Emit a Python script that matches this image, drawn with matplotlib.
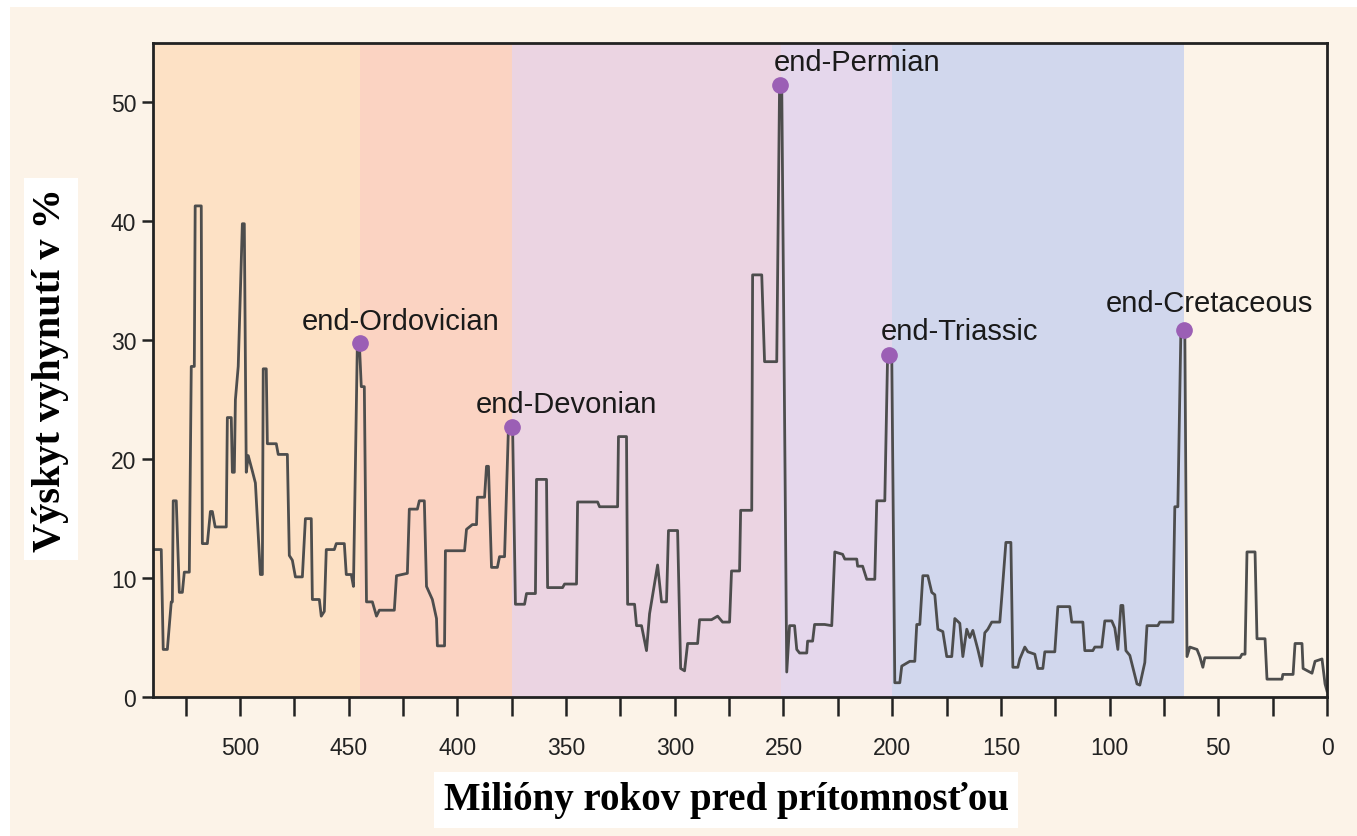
import numpy as np
import matplotlib
matplotlib.use("Agg")
import matplotlib.pyplot as plt
from matplotlib.patches import Rectangle

# extinction intensity (%) vs. millions of years ago
ages = [540, 536.2, 535.3, 533.4, 531.6, 531.1, 530.7, 529.3, 527.9, 526.5, 525.6, 523.3,
        522.4, 521.0, 520.6, 517.8, 517.3, 515.0, 513.6, 512.7, 511.4, 506.3, 505.8, 504.0,
        503.5, 502.6, 502.1, 500.8, 498.9, 498.0, 497.1, 496.2, 494.3, 492.9, 490.6, 489.7,
        489.3, 487.9, 487.4, 483.3, 482.4, 478.2, 477.3, 475.9, 474.5, 471.3, 469.9, 467.2,
        466.7, 463.5, 462.6, 461.2, 460.3, 456.6, 455.7, 452.0, 451.1, 448.8, 447.8, 446.0,
        445.1, 444.2, 442.8, 441.8, 439.1, 437.2, 435.9, 429.0, 428.0, 423.0, 422.1, 418.4,
        417.5, 415.2, 414.2, 411.5, 409.6, 409.2, 405.9, 405.5, 396.7, 395.8, 393.1, 391.2,
        390.8, 387.5, 386.6, 385.7, 384.3, 381.6, 380.6, 378.3, 376.5, 374.6, 373.3, 369.1,
        368.2, 364.1, 363.6, 359.0, 358.5, 351.6, 350.7, 345.2, 344.7, 335.5, 334.6, 326.3,
        325.9, 322.2, 321.7, 318.5, 317.6, 315.3, 313.0, 311.6, 307.9, 306.1, 303.8, 302.9,
        298.7, 297.3, 295.5, 294.1, 289.5, 288.6, 283.1, 280.3, 278.0, 274.8, 273.9, 270.2,
        269.7, 264.6, 264.2, 260.0, 258.7, 253.1, 251.8, 250.8, 248.5, 247.2, 244.9, 243.9,
        242.6, 239.3, 238.9, 236.6, 235.7, 231.1, 227.8, 226.4, 222.8, 221.8, 216.3, 215.9,
        213.6, 211.7, 208.0, 207.1, 203.4, 202.1, 200.2, 198.8, 196.5, 195.6, 191.9, 189.6,
        188.7, 187.3, 185.9, 183.6, 181.8, 180.4, 179.0, 176.7, 174.9, 172.6, 171.2, 168.9,
        167.5, 165.7, 164.3, 162.9, 160.6, 158.8, 157.4, 156.0, 154.2, 150.5, 149.6, 147.7,
        145.4, 144.5, 142.2, 141.3, 139.0, 137.6, 134.4, 133.0, 130.7, 129.8, 125.2, 123.8,
        118.3, 117.4, 112.3, 111.4, 107.7, 106.8, 103.6, 102.2, 99.0, 97.6, 96.2, 94.8,
        93.9, 92.5, 90.7, 87.4, 86.1, 83.8, 82.8, 77.8, 76.9, 70.9, 70.0, 68.6,
        67.2, 65.4, 64.4, 63.1, 59.8, 58.5, 57.1, 56.2, 40.0, 39.1, 37.7, 36.8,
        33.1, 32.2, 28.5, 27.6, 20.7, 20.3, 15.6, 14.7, 11.5, 11.0, 6.9, 5.5,
        2.3, 0.9, 0]
rates = [12.4, 12.4, 4.0, 4.0, 8.0, 8.0, 16.5, 16.5, 8.8, 8.8, 10.5, 10.5,
         27.8, 27.8, 41.3, 41.3, 12.9, 12.9, 15.6, 15.6, 14.3, 14.3, 23.5, 23.5,
         18.9, 18.9, 25.0, 27.8, 39.8, 39.8, 18.9, 20.3, 19.0, 18.0, 10.3, 10.3,
         27.6, 27.6, 21.3, 21.3, 20.4, 20.4, 11.9, 11.5, 10.1, 10.1, 15.0, 15.0,
         8.2, 8.2, 6.8, 7.2, 12.4, 12.4, 12.9, 12.9, 10.3, 10.3, 9.3, 29.8,
         29.8, 26.1, 26.1, 8.0, 8.0, 6.8, 7.3, 7.3, 10.2, 10.4, 15.8, 15.8,
         16.5, 16.5, 9.3, 8.2, 6.6, 4.3, 4.3, 12.3, 12.3, 14.1, 14.5, 14.5,
         16.8, 16.8, 19.4, 19.4, 10.9, 10.9, 11.8, 11.8, 22.7, 22.7, 7.8, 7.8,
         8.7, 8.7, 18.3, 18.3, 9.2, 9.2, 9.5, 9.5, 16.4, 16.4, 16.0, 16.0,
         21.9, 21.9, 7.8, 7.8, 6.0, 6.0, 3.9, 7.0, 11.1, 8.0, 8.0, 14.0,
         14.0, 2.4, 2.2, 4.5, 4.5, 6.5, 6.5, 6.8, 6.3, 6.3, 10.6, 10.6,
         15.7, 15.7, 35.5, 35.5, 28.2, 28.2, 51.5, 51.5, 2.1, 6.0, 6.0, 4.0,
         3.7, 3.7, 4.7, 4.7, 6.1, 6.1, 6.0, 12.2, 12.0, 11.6, 11.6, 11.0,
         11.0, 9.9, 9.9, 16.5, 16.5, 28.8, 28.8, 1.2, 1.2, 2.6, 3.0, 3.0,
         6.1, 6.1, 10.2, 10.2, 8.8, 8.6, 5.7, 5.5, 3.4, 3.4, 6.6, 6.2,
         3.4, 5.7, 5.0, 5.6, 4.0, 2.6, 5.4, 5.7, 6.3, 6.3, 8.4, 13.0,
         13.0, 2.5, 2.5, 3.2, 4.2, 3.8, 3.6, 2.4, 2.4, 3.8, 3.8, 7.6,
         7.6, 6.3, 6.3, 3.9, 3.9, 4.2, 4.2, 6.4, 6.4, 5.8, 4.0, 7.7,
         7.7, 3.9, 3.5, 1.1, 1.0, 2.9, 6.0, 6.0, 6.3, 6.3, 16.0, 16.0,
         30.9, 30.9, 3.4, 4.2, 4.0, 3.4, 2.5, 3.3, 3.3, 3.6, 3.6, 12.2,
         12.2, 4.9, 4.9, 1.5, 1.5, 1.9, 1.9, 4.5, 4.5, 2.4, 2.0, 3.0,
         3.2, 1.1, 0.5]

# the big five
events = ["end-Ordovician", "end-Devonian", "end-Permian", "end-Triassic", "end-Cretaceous"]
event_age = [445, 375, 251.8, 201.5, 66]
event_rate = [29.8, 22.7, 51.5, 28.8, 30.9]
label_age = [426, 350, 216, 169, 54]
label_rate = [31.6, 24.6, 53.4, 30.8, 33.1]

# geological periods shading
band_edges = [540, 445, 375, 251, 200, 66, 0]
band_colors = ["#fde1c5", "#fbd3c2", "#ebd4e2", "#e5d7ec", "#d1d7ed", "#fcf3e8"]

fig = plt.figure(figsize=(13.57, 8.37), dpi=100, facecolor="white")
fig.patches.append(Rectangle((10 / 1357, 0), 1, 1 - 8 / 837, transform=fig.transFigure,
                             facecolor="#fcf3e8", edgecolor="none", zorder=-10))

ax = fig.add_axes([153 / 1357, 1 - 698 / 837, 1174 / 1357, 654 / 837])
for i in range(len(band_colors)):
    ax.axvspan(band_edges[i], band_edges[i + 1], color=band_colors[i], lw=0, zorder=0)

ax.plot(ages, rates, color="#4d4d4d", lw=2.0, zorder=2)
ax.plot(event_age, event_rate, "o", color="#9b5fb5", ms=11, zorder=3)
for name, a, r in zip(events, label_age, label_rate):
    ax.text(a, r, name, ha="center", va="center", fontsize=21,
            family="Liberation Sans", color="#1a1a1a", zorder=4)

ax.set_xlim(540, 0)
ax.set_ylim(0, 55)
xt = np.arange(525, -1, -25)
ax.set_xticks(xt)
ax.set_xticklabels([str(t) if t % 50 == 0 else "" for t in xt])
ax.set_yticks([0, 10, 20, 30, 40, 50])
ax.tick_params(axis="x", length=14, width=1.8, direction="out", pad=14, color="#222222")
ax.tick_params(axis="y", length=8, width=1.8, direction="out", pad=4, color="#222222")
for lab in ax.get_xticklabels() + ax.get_yticklabels():
    lab.set_family("Liberation Sans")
    lab.set_fontsize(16.5)
    lab.set_color("#222222")
for s in ax.spines.values():
    s.set_linewidth(2.0)
    s.set_color("#222222")

fig.text(51 / 1357, 1 - 370 / 837, "Výskyt vyhynutí v %", rotation=90, ha="center", va="center",
         fontsize=29, fontweight="bold", family="Liberation Serif",
         bbox=dict(facecolor="white", edgecolor="none", boxstyle="square,pad=0.22"))
fig.text(726 / 1357, 1 - 801 / 837, "Milióny rokov pred prítomnosťou", ha="center", va="center",
         fontsize=28, fontweight="bold", family="Liberation Serif",
         bbox=dict(facecolor="white", edgecolor="none", boxstyle="square,pad=0.25"))

fig.savefig("out.png", dpi=100, facecolor=fig.get_facecolor())
